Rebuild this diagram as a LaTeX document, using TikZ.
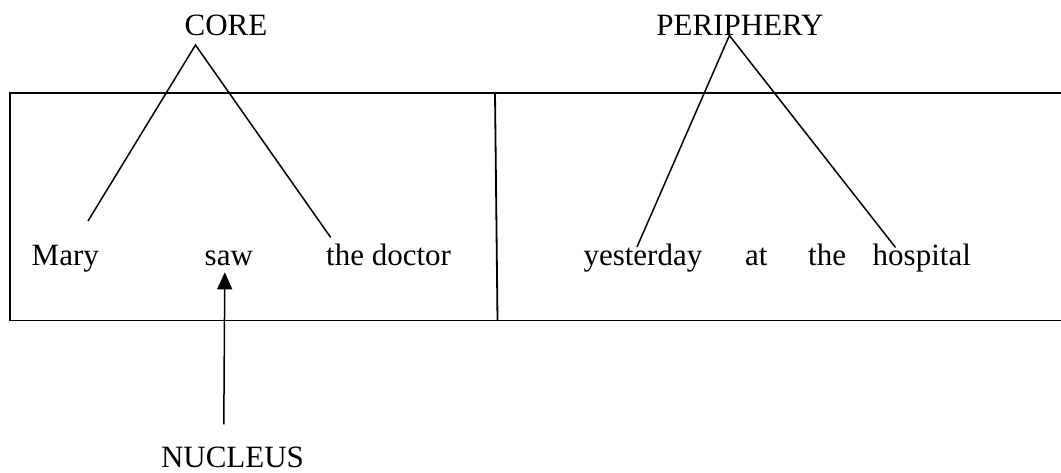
\documentclass[tikz,border=0pt]{standalone}
\usepackage{fontspec}
\setmainfont{Liberation Serif}
\usetikzlibrary{arrows.meta}
\begin{document}
\begin{tikzpicture}[x=1pt,y=-1pt,
  word/.style={inner sep=0pt,anchor=base west,font=\fontsize{31}{37}\selectfont},
  label/.style={inner sep=0pt,anchor=base,font=\fontsize{31}{37}\selectfont},
  branch/.style={line width=1.5pt},
  frame/.style={line width=1.8pt},
  pointer/.style={line width=1.5pt,-{Triangle[length=17pt,width=15pt]}}]
\useasboundingbox (0,0) rectangle (1061,473);

% clause frame: core cell on the left, periphery cell open to the right
\draw[frame] (1065,93) -- (10,93) -- (10,320.5) -- (1065,320.5);
\draw[frame] (495,93) -- (497.5,320.5);

% labels
\node[label] (core) at (226,35.5) {CORE};
\node[label] (periphery) at (740,35.5) {PERIPHERY};
\node[label] (nucleus) at (232.5,467) {NUCLEUS};

% words of the clause
\node[word] (mary) at (31.5,266) {Mary};
\node[word] (saw) at (204.5,266) {saw};
\node[word] (doctor) at (326,266) {the doctor};
\node[word] (yesterday) at (583.3,266) {yesterday};
\node[word] (at) at (745,266) {at};
\node[word] (the) at (808,266) {the};
\node[word] (hospital) at (872.5,266) {hospital};

% branch points
\coordinate (coretop) at (195.5,45);
\coordinate (coreL) at (88,221);
\coordinate (coreR) at (330.7,237.5);
\coordinate (pertop) at (729.4,35.5);
\coordinate (perL) at (637,247);
\coordinate (perR) at (895.5,247.5);
\coordinate (nucfoot) at (223.8,424.4);
\coordinate (nuctip) at (224.8,272.3);

\draw[branch] (coreL) -- (coretop) -- (coreR);
\draw[branch] (perL) -- (pertop) -- (perR);
\draw[pointer] (nucfoot) -- (nuctip);
\end{tikzpicture}
\end{document}
